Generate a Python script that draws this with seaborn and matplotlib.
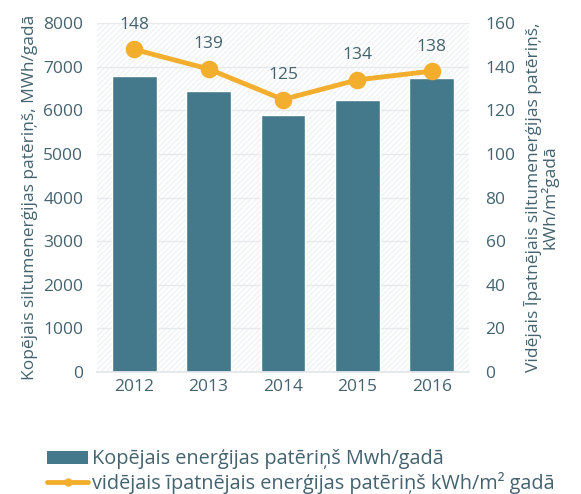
import pandas as pd
import matplotlib.pyplot as plt
import seaborn as sns
from matplotlib.patches import Patch
from matplotlib.lines import Line2D

# Data
years = ["2012", "2013", "2014", "2015", "2016"]
total_mwh = [6790, 6445, 5895, 6245, 6750]
specific_kwh = [148, 139, 125, 134, 138]

bar_color = "#44798b"
line_color = "#f4ae2e"
text_color = "#44636e"

sns.set_theme(style="white")
plt.rcParams["font.family"] = ["Open Sans", "DejaVu Sans"]

df = pd.DataFrame({"year": years, "total": total_mwh, "specific": specific_kwh})

fig = plt.figure(figsize=(5.81, 4.94), dpi=100)
ax = fig.add_axes([0.167, 0.247, 0.64, 0.706])

# faint hatched plot area like the original
ax.patch.set_facecolor("white")
ax.patch.set_hatch("//////")
ax.patch.set_edgecolor("#f0f3f4")

sns.barplot(data=df, x="year", y="total", color=bar_color, width=0.6,
            saturation=1, ax=ax, zorder=2)
ax.set_ylim(0, 8000)
ax.set_yticks(range(0, 8001, 1000))
ax.grid(axis="y", color="#e6eaec", linewidth=1, zorder=0)
ax.set_axisbelow(True)
ax.set_xlabel("")
ax.set_ylabel("Kopējais siltumenerģijas patēriņš, MWh/gadā", color=text_color,
              fontsize=12.5, labelpad=4)
ax.tick_params(axis="both", colors=text_color, labelsize=12.5, length=0, pad=10)
ax.tick_params(axis="x", pad=5)
for s in ax.spines.values():
    s.set_visible(False)
ax.spines["bottom"].set_visible(True)
ax.spines["bottom"].set_color("#e3e7e9")

ax2 = ax.twinx()
sns.pointplot(data=df, x="year", y="specific", color=line_color, ax=ax2,
              markersize=10, linewidth=3.5)
ax2.set_ylim(0, 160)
ax2.set_yticks(range(0, 161, 20))
ax2.set_xlim(-0.5, 4.5)
ax2.set_ylabel("Vidējais Īpatnējais siltumenerģijas patēriņš,\nkWh/m²gadā",
               color=text_color, fontsize=12.5, labelpad=6, linespacing=0.9)
ax2.tick_params(axis="y", colors=text_color, labelsize=12.5, length=0, pad=12)
ax2.grid(False)
for s in ax2.spines.values():
    s.set_visible(False)

for i, v in enumerate(specific_kwh):
    ax2.annotate(str(v), (i, v), xytext=(0, 12), textcoords="offset points",
                 ha="center", va="bottom", color=text_color, fontsize=12.5)

handles = [
    Patch(facecolor=bar_color, edgecolor="none"),
    Line2D([0], [0], color=line_color, linewidth=3.5, marker="o", markersize=5),
]
labels = ["Kopējais enerģijas patēriņš Mwh/gadā",
          "vidējais īpatnējais enerģijas patēriņš kWh/m² gadā"]
leg = fig.legend(handles, labels, loc="lower left", bbox_to_anchor=(0.06, -0.025),
                 frameon=False, fontsize=14.3, handlelength=2.1, handletextpad=0.2,
                 labelspacing=0.15, borderaxespad=0.2)
for t in leg.get_texts():
    t.set_color(text_color)

fig.savefig("out.png", dpi=100)
